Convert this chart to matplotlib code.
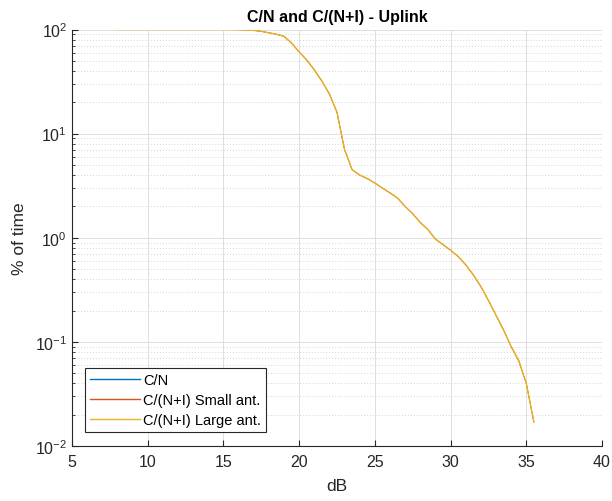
import matplotlib
matplotlib.use("Agg")
import matplotlib.pyplot as plt
from matplotlib.ticker import LogLocator, NullFormatter, FixedLocator

plt.rcParams["font.family"] = ["Liberation Sans", "DejaVu Sans"]
plt.rcParams["mathtext.fontset"] = "custom"
plt.rcParams["mathtext.rm"] = "Liberation Sans"
plt.rcParams["mathtext.it"] = "Liberation Sans:italic"
plt.rcParams["mathtext.bf"] = "Liberation Sans:bold"

# dB values and % of time
db = [8, 9, 10, 11, 12, 13, 14, 15, 15.5, 16, 16.5, 17, 17.5, 18, 18.5, 19,
      19.5, 20, 20.5, 21, 21.5, 22, 22.5, 23, 23.5,
      24, 24.5, 25, 25.5, 26, 26.5, 27, 27.5, 28, 28.5, 29, 29.5, 30,
      30.5, 31, 31.5, 32, 32.5, 33, 33.5, 34, 34.5, 35, 35.5]
pct = [100, 100, 100, 100, 100, 100, 100, 100, 99.8, 99.5, 99, 98, 96, 93, 90, 86,
       74, 61, 51, 41, 32, 24, 16, 7.0, 4.5,
       4.0, 3.7, 3.35, 3.0, 2.7, 2.4, 2.0, 1.7, 1.4, 1.2, 0.97, 0.86, 0.76,
       0.66, 0.55, 0.44, 0.34, 0.25, 0.18, 0.13, 0.09, 0.066, 0.040, 0.017]

# all three curves coincide, only the last one is visible
series = {
    "C/N": pct,
    "C/(N+I) Small ant.": pct,
    "C/(N+I) Large ant.": pct,
}
colors = ["#0072BD", "#D95319", "#EDB120"]
widths = [0.5, 0.5, 1.0]

fig = plt.figure(figsize=(6.12, 5.02), dpi=100)
ax = fig.add_axes([72 / 612, 1 - 447 / 502, 530 / 612, 416.5 / 502])

for (name, vals), c, w in zip(series.items(), colors, widths):
    ax.plot(db, vals, color=c, lw=w, label=name)

ax.set_yscale("log")
ax.set_xlim(5, 40)
ax.set_ylim(1e-2, 1e2)
ax.xaxis.set_major_locator(FixedLocator([5, 10, 15, 20, 25, 30, 35, 40]))
ax.yaxis.set_major_locator(LogLocator(base=10, numticks=10))
ax.yaxis.set_minor_locator(LogLocator(base=10, subs=range(2, 10), numticks=10))
ax.yaxis.set_minor_formatter(NullFormatter())

ax.grid(True, which="major", color="#dedede", lw=0.7)
ax.grid(True, which="minor", axis="y", color="#d4d4d4", lw=0.7, ls=(0, (1, 2)))
ax.set_axisbelow(True)

for s in ["top", "right"]:
    ax.spines[s].set_visible(False)
for s in ["left", "bottom"]:
    ax.spines[s].set_color("#262626")
    ax.spines[s].set_linewidth(0.8)

ax.tick_params(which="both", direction="in", colors="#262626", labelsize=11.5,
               labelcolor="#262626")
ax.tick_params(which="major", length=4)
ax.tick_params(which="minor", length=2.5)
ax.tick_params(axis="x", pad=6)

ax.set_title("C/N and C/(N+I) - Uplink", fontsize=11.5, fontweight="bold", pad=6)
ax.set_xlabel("dB", fontsize=12.5, color="#262626", labelpad=6)
ax.set_ylabel("% of time", fontsize=12.5, color="#262626", labelpad=6)

leg = ax.legend(loc="lower left", bbox_to_anchor=(13 / 530, 14 / 416.5),
                borderaxespad=0, fontsize=10.5, fancybox=False, framealpha=1,
                edgecolor="#262626", handlelength=3.4, handletextpad=0.25,
                labelspacing=0.4, borderpad=0.35)
leg.get_frame().set_linewidth(0.8)
for h in leg.get_lines():
    h.set_linewidth(1.0)

fig.savefig("out.png", dpi=100)
